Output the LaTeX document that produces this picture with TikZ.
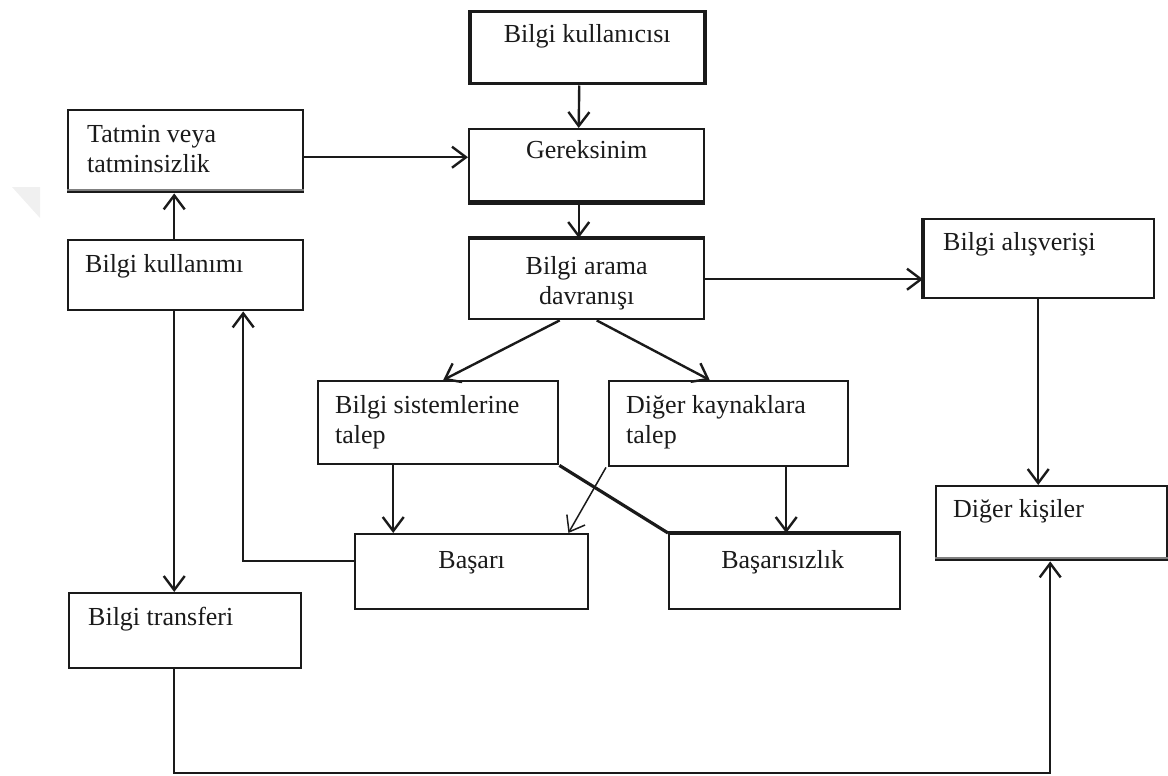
\documentclass[tikz,border=0pt]{standalone}
\usepackage{fontspec}
\setmainfont{Liberation Serif}
\usetikzlibrary{arrows.meta}
\definecolor{ink}{HTML}{1A1A1A}
\begin{document}
\begin{tikzpicture}[x=1pt,y=-1pt,
  box/.style={draw=ink, line width=2.4pt, anchor=north west, inner sep=0pt},
  lt/.style={anchor=base west, inner sep=0pt, text=ink, font=\fontsize{26}{30}\selectfont, align=left},
  ct/.style={anchor=base, inner sep=0pt, text=ink, font=\fontsize{26}{30}\selectfont, align=center},
  arr/.style={draw=ink, line width=2.4pt, -{Straight Barb[length=14pt,width=21pt]}},
  ln/.style={draw=ink, line width=2.4pt},
  edge/.style={draw=ink, line width=4.5pt}]
\useasboundingbox (0,0) rectangle (1168,776);
% faint watermark
\fill[gray!12] (12,187) -- (40,187) -- (40,218) -- cycle;
% boxes
\node[box, minimum width=235pt, minimum height=72pt, line width=3.5pt] (bk) at (468,10) {};
\node[box, minimum width=235pt, minimum height=72pt] (ger) at (468,128) {};
\node[box, minimum width=235pt, minimum height=80pt] (ba) at (468,238) {};
\node[box, minimum width=235pt, minimum height=82pt] (tat) at (67,109) {};
\node[box, minimum width=235pt, minimum height=70pt] (bku) at (67,239) {};
\node[box, minimum width=230pt, minimum height=79pt] (al) at (923,218) {};
\node[box, minimum width=240pt, minimum height=83pt] (bs) at (317,380) {};
\node[box, minimum width=239pt, minimum height=85pt] (dk) at (608,380) {};
\node[box, minimum width=233pt, minimum height=75pt] (bas) at (354,533) {};
\node[box, minimum width=231pt, minimum height=75pt] (basz) at (668,533) {};
\node[box, minimum width=231pt, minimum height=74pt] (dkis) at (935,485) {};
\node[box, minimum width=232pt, minimum height=75pt] (bt) at (68,592) {};
% heavier edges
\draw[edge] (ger.south west) -- (ger.south east);
\draw[edge] (ba.north west) -- (ba.north east);
\draw[edge] (basz.north west) -- (basz.north east);
\draw[edge] (al.north west) -- (al.south west);
\draw[draw=gray, line width=2pt] ([yshift=3.5]tat.south west) -- ([yshift=3.5]tat.south east);
\draw[draw=gray, line width=2pt] ([yshift=3.5]dkis.south west) -- ([yshift=3.5]dkis.south east);
% texts (two-line nodes are anchored at the baseline of their last line)
\node[ct] (tbk) at ([yshift=-33]bk.north) {Bilgi kullanıcısı};
\node[ct] (tger) at ([yshift=-30]ger.north) {Gereksinim};
\node[ct] (tba) at ([yshift=-66]ba.north) {Bilgi arama\\davranışı};
\node[lt] (ttat) at ([xshift=20,yshift=-63]tat.north west) {Tatmin veya\\tatminsizlik};
\node[lt] (tbku) at ([xshift=18,yshift=-33]bku.north west) {Bilgi kullanımı};
\node[lt] (tal) at ([xshift=20,yshift=-32]al.north west) {Bilgi alışverişi};
\node[lt] (tbs) at ([xshift=18,yshift=-63]bs.north west) {Bilgi sistemlerine\\talep};
\node[lt] (tdk) at ([xshift=18,yshift=-63]dk.north west) {Diğer kaynaklara\\talep};
\node[ct] (tbas) at ([yshift=-35]bas.north) {Başarı};
\node[ct] (tbasz) at ([xshift=-2,yshift=-35]basz.north) {Başarısızlık};
\node[lt] (tdkis) at ([xshift=18,yshift=-32]dkis.north west) {Diğer kişiler};
\node[lt] (tbt) at ([xshift=20,yshift=-33]bt.north west) {Bilgi transferi};
% connectors
\coordinate (bot) at (0,773);
\draw[arr] ([xshift=-8]bk.south) -- ([xshift=-8]ger.north);
\draw[arr] ([yshift=-6]tat.east) -- ([yshift=-6]tat.east -| ger.west);
\draw[arr] ([xshift=-8]ger.south) -- ([xshift=-8]ba.north);
\draw[arr] (ba.east) -- (ba.east -| al.west);
\draw[arr] ([xshift=-27]ba.south) -- ([xshift=5]bs.north);
\draw[arr] ([xshift=10]ba.south) -- ([xshift=-19]dk.north);
\draw[arr] ([xshift=-45]bs.south) -- ([xshift=-45]bs.south |- bas.north);
\draw[arr, line width=1.5pt] ([xshift=-2]dk.south west) -- ([xshift=-21]bas.north east);
\draw[ln, line width=3.2pt] (bs.south east) -- (basz.north west);
\draw[arr] ([xshift=57.5]dk.south) -- ([xshift=57.5]dk.south |- basz.north);
\draw[arr] ([yshift=10.5]bas.west) -| ([xshift=57.5]bku.south);
\draw[arr] ([xshift=-11.5]bku.north) -- ([xshift=-11.5]tat.south);
\draw[arr] ([xshift=-11.5]bku.south) -- ([xshift=-11.5]bku.south |- bt.north);
\draw[arr] ([xshift=-11]bt.south) -- ([xshift=-11]bt.south |- bot) -| ([xshift=-1.5]dkis.south);
\draw[arr] ([xshift=-1]al.south) -- ([xshift=-1]al.south |- dkis.north);
\end{tikzpicture}
\end{document}
